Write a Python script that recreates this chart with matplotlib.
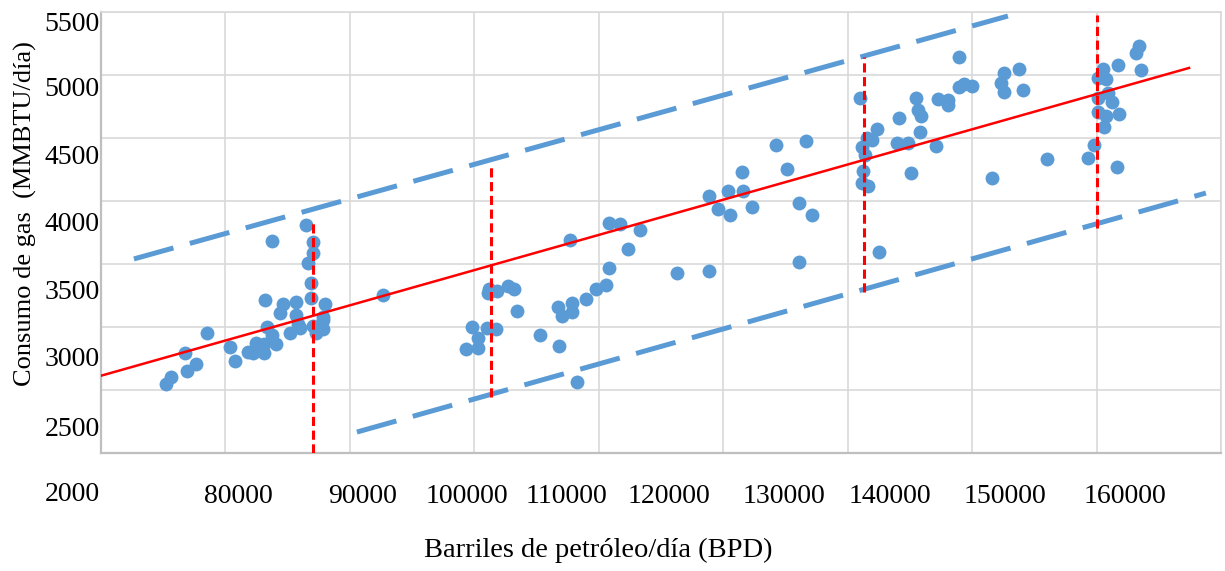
import numpy as np
import matplotlib
matplotlib.use("Agg")
import matplotlib.pyplot as plt
import matplotlib.transforms as mtransforms

# observed points: oil production (BPD) vs gas consumption (MMBTU/day)
bpd = [75200, 75600, 76900, 77600, 76750, 78500, 80400, 80800, 81800, 82200,
       82450, 83100, 83100, 83700, 84100, 83300, 83200, 84400, 84600, 85700,
       85700, 85800, 85200, 86000, 83700, 86500, 87000, 87000, 86600, 86900,
       86900, 88000, 87800, 87000, 87300, 87800, 87800, 92650,
       101100, 101200, 101800, 102700, 103200, 103400, 99800, 101000, 101700, 100300,
       99300, 100300, 105300, 106800, 106700, 107000, 107800, 107800, 109000, 109800,
       110600, 110800, 108200, 107700,
       110800, 111700, 113300, 112300, 116300, 118800, 118800, 119600, 120400, 120500,
       121500, 121600, 122300, 124200, 125100, 126100, 127100, 126600, 126100,
       131000, 131100, 131500, 131900, 132300, 131400, 131200, 131100, 131600, 132500,
       133900, 134800, 134100, 135100, 135500, 135600, 135900, 135800, 137100, 137200,
       138000, 138000, 138900, 138900, 139300, 140000, 141600, 142300, 142500, 142500,
       143700, 144100, 146000,
       149300, 149800, 151600, 150100, 150700, 151800, 150600, 151200, 150900, 150100,
       150100, 150500, 150700, 151700, 153500, 153100, 153400]
gas = [2547, 2603, 2651, 2706, 2793, 2952, 2841, 2730, 2801, 2793,
       2873, 2793, 2865, 2936, 2865, 3000, 3214, 3111, 3182, 3198,
       3095, 3024, 2952, 2992, 3682, 3809, 3674, 3587, 3508, 3349,
       3230, 3182, 3079, 3008, 2952, 2984, 3055, 3254,
       3270, 3301, 3286, 3325, 3301, 3127, 3000, 2992, 2984, 2913,
       2825, 2833, 2936, 2849, 3159, 3087, 3190, 3119, 3222, 3301,
       3333, 3468, 2563, 3690,
       3825, 3817, 3770, 3619, 3428, 3444, 4040, 3936, 4079, 3889,
       4230, 4079, 3952, 4444, 4254, 3984, 3889, 4476, 3516,
       4817, 4429, 4500, 4484, 4571, 4365, 4238, 4143, 4119, 3595,
       4460, 4460, 4659, 4222, 4817, 4722, 4675, 4548, 4436, 4809,
       4802, 4762, 5143, 4905, 4929, 4913, 4182, 4936, 5016, 4865,
       5048, 4881, 4333,
       4341, 4444, 4270, 4706, 4675, 4690, 4587, 4786, 4857, 4817,
       4976, 5048, 4968, 5079, 5040, 5175, 5230]

# regression line and prediction band (end points)
trend_x = [70000, 157400]
trend_y = [2613, 5056]
upper_x = [72650, 142850]
upper_y = [3540, 5468]
lower_x = [90560, 158750]
lower_y = [2166, 4063]

# vertical prediction intervals
vline_x = [87000, 101300, 131300, 150000]
vline_lo = [2000, 2444, 3278, 3786]
vline_hi = [3849, 4286, 5143, 5476]

x_ticks = np.arange(70000, 160001, 10000)
x_labels = [""] + [str(v) for v in x_ticks[1:]]
y_ticks = np.arange(2000, 5501, 500)
y_labels = [str(v) for v in y_ticks]

# the tick labels in the picture sit off the gridlines (pixels)
x_label_shift = [0, 12.5, 13, -7.5, -32, -54.5, -64, -82.5, -92, -96.5]
y_label_shift = [39, 37, 30, 26, 21, 17, 12, 10]

serif = "Liberation Serif"
blue = "#5B9BD5"

fig = plt.figure(figsize=(12.25, 5.71), dpi=100)
ax = fig.add_axes([0.0824, 0.2067, 0.9147, 0.7723])

ax.scatter(bpd, gas, s=100, color=blue, linewidths=0, zorder=3)
ax.plot(upper_x, upper_y, color=blue, lw=3.6, dashes=(8.2, 3.4), zorder=2)
ax.plot(lower_x, lower_y, color=blue, lw=3.6, dashes=(8.2, 3.4), zorder=2)
ax.plot(trend_x, trend_y, color="red", lw=1.8, zorder=4)
ax.vlines(vline_x, vline_lo, vline_hi, colors="red", lw=2.2,
          linestyles=(0, (3, 1.5)), zorder=4)

ax.set_xlim(70000, 160000)
ax.set_ylim(2000, 5500)
ax.set_xticks(x_ticks, x_labels)
ax.set_yticks(y_ticks, y_labels)
ax.grid(True, color="#d9d9d9", lw=1.2, zorder=0)
ax.set_axisbelow(True)
ax.tick_params(axis="both", length=0, labelsize=20)
ax.tick_params(axis="x", pad=22)
ax.tick_params(axis="y", pad=1)
for side in ["top", "right"]:
    ax.spines[side].set_color("#d9d9d9")
    ax.spines[side].set_linewidth(1.2)
for side in ["left", "bottom"]:
    ax.spines[side].set_color("#bfbfbf")
    ax.spines[side].set_linewidth(1.6)

for lab in ax.get_xticklabels() + ax.get_yticklabels():
    lab.set_fontfamily(serif)

fig.canvas.draw()
for lab, dx in zip(ax.get_xticklabels(), x_label_shift):
    lab.set_transform(lab.get_transform() +
                      mtransforms.ScaledTranslation(dx / 100, 0, fig.dpi_scale_trans))
for lab, dy in zip(ax.get_yticklabels(), y_label_shift):
    lab.set_transform(lab.get_transform() +
                      mtransforms.ScaledTranslation(0, -dy / 100, fig.dpi_scale_trans))

ax.set_xlabel("Barriles de petróleo/día (BPD)", fontsize=20.5, fontfamily=serif)
ax.set_ylabel("Consumo de gas  (MMBTU/día)", fontsize=19, fontfamily=serif)
ax.xaxis.set_label_coords(0.4436, -0.193)
ax.yaxis.set_label_coords(-0.057, 0.542)

fig.savefig("out.png", dpi=100)
